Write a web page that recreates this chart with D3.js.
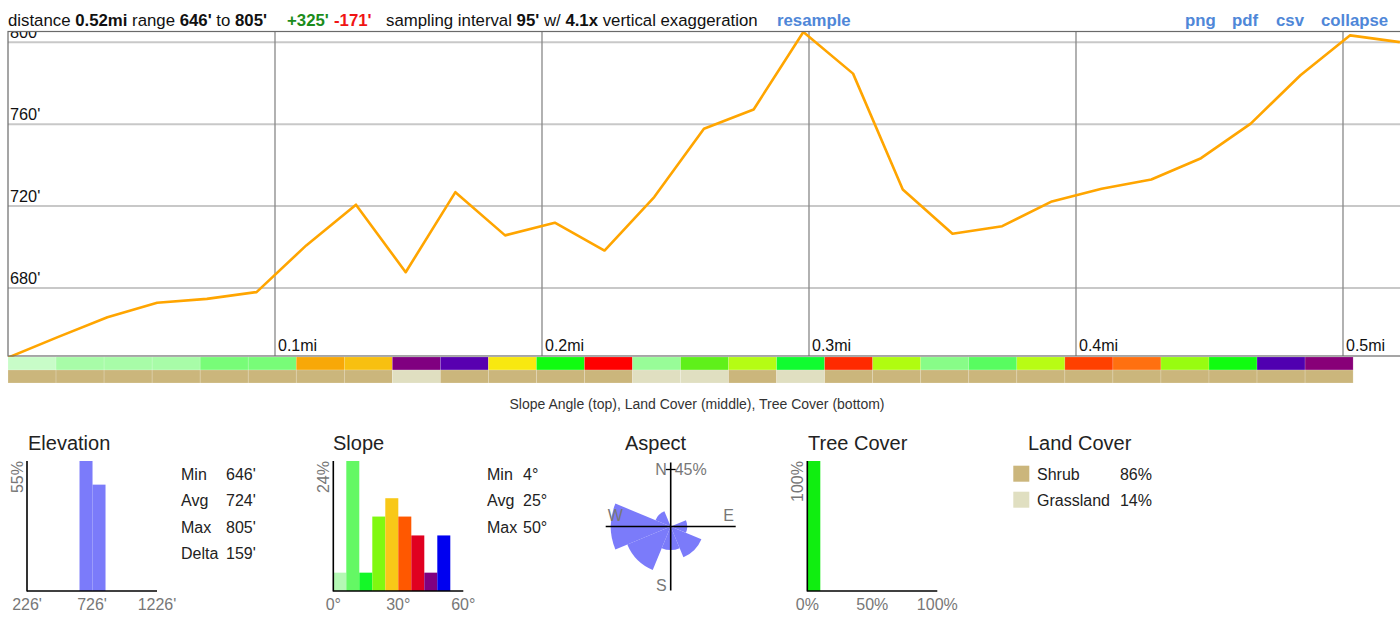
<!DOCTYPE html>
<html><head><meta charset="utf-8">
<script src="https://cdn.jsdelivr.net/npm/d3@7"></script>
<style>
html,body{margin:0;padding:0;background:#fff;}
svg{display:block;font-family:"Liberation Sans",Arial,Helvetica,sans-serif;}
</style></head><body>
<svg id="c" width="1400" height="620"></svg>
<script>
// ---------- data ----------
const totalMiles = 0.5213;
const elevations = [646,656,665.7,672.8,674.7,678,700.8,720.7,687.7,726.8,705.7,711.9,698.3,724.4,757.8,767.2,805,784.7,728.1,706.5,710.2,722.3,728.5,733,743.4,760.3,783.9,803.4,800.1];
const xTicks = [0.1,0.2,0.3,0.4,0.5];
const xTickLabels = ["0.1mi","0.2mi","0.3mi","0.4mi","0.5mi"];
const yTicks = [680,720,760,800];
const yTickLabels = ["680'","720'","760'","800'"];
const sampleFeet = 95;
const slopeColors = ["#c8fcc8","#a8fca8","#a8fca8","#a8fca8","#78fc78","#78fc78","#f8a808","#f8c010","#800080","#5800b0",
  "#f8e810","#10fc10","#ff0000","#98fc98","#5ff01a","#b5fc14","#10fc30","#ff2a00","#b0fc10","#88fc88",
  "#58fc60","#b8fc14","#ff4000","#ff7010","#98fc10","#10fc10","#5000b0","#880078"];
const landCover = ["Shrub","Shrub","Shrub","Shrub","Shrub","Shrub","Shrub","Shrub","Grassland","Shrub",
  "Shrub","Shrub","Shrub","Grassland","Grassland","Shrub","Grassland","Shrub","Shrub","Shrub",
  "Shrub","Shrub","Shrub","Shrub","Shrub","Shrub","Shrub","Shrub"];
const landNames = ["Shrub","Grassland"];
const landPct = [86,14];
const landColors = ["#cbb67c","#e0dfc1"];

const elevBinEdges = [630,730,830];
const elevPct = [55,45];
const elevAxisTicks = [226,726,1226];
const elevAxisLabels = ["226'","726'","1226'"];
const elevStatNames = ["Min","Avg","Max","Delta"];
const elevStatValues = ["646'","724'","805'","159'"];

const slopeBinStarts = [0,6,12,18,24,30,36,42,48];
const slopePct = [3.4,24.1,3.4,13.8,17.2,13.8,10.3,3.4,10.3];
const slopeBinColors = ["#b4f8b4","#64f864","#14f828","#80f810","#f8c818","#ff5800","#e00020","#800080","#0000f0"];
const slopeAxisTicks = [0,30,60];
const slopeAxisLabels = ["0°","30°","60°"];
const slopeStatNames = ["Min","Avg","Max"];
const slopeStatValues = ["4°","25°","50°"];

const aspectDirs = ["N","NE","E","SE","S","SW","W","NW"];
const aspectPct = [0,0,3.4,13.8,6.9,27.6,44.8,3.4];

const treeBinStarts = [0];
const treePct = [100];
const treeAxisTicks = [0,50,100];
const treeAxisLabels = ["0%","50%","100%"];

// ---------- drawing ----------
const svg = d3.select("#c");
const gray = "#777";

// header
const hdr = svg.append("g").attr("font-size",16.8);
function runs(x, parts){
  const t = hdr.append("text").attr("x",x).attr("y",26);
  parts.forEach(p=>t.append("tspan").text(p[0]).attr("font-weight",p[1]?"bold":null).attr("fill",p[2]||"#111"));
}
runs(8,[["distance ",0],["0.52mi",1],[" range ",0],["646'",1],[" to ",0],["805'",1]]);
runs(287,[["+325'",1,"#1b8c1b"]]);
runs(334,[["-171'",1,"#f01414"]]);
runs(386,[["sampling interval ",0],["95'",1],[" w/ ",0],["4.1x",1],[" vertical exaggeration",0]]);
const blue = "#4f87d8";
runs(777,[["resample",1,blue]]);
runs(1185,[["png",1,blue]]);
runs(1232,[["pdf",1,blue]]);
runs(1276,[["csv",1,blue]]);
runs(1321,[["collapse",1,blue]]);

// main chart
const x = d3.scaleLinear().domain([0,totalMiles]).range([8, 8+totalMiles*2670]);
const y = d3.scaleLinear().domain([680,800]).range([288,42.3]);
const plotTop = 31.5, plotBottom = 356, plotLeft = 8, plotRight = 1401;

svg.append("clipPath").attr("id","pc").append("rect")
  .attr("x",plotLeft).attr("y",plotTop).attr("width",plotRight-plotLeft).attr("height",plotBottom-plotTop+1);
const plot = svg.append("g").attr("clip-path","url(#pc)");

plot.selectAll("line.h").data(yTicks).join("line")
  .attr("x1",plotLeft).attr("x2",plotRight).attr("y1",d=>y(d)).attr("y2",d=>y(d))
  .attr("stroke","#c8c8c8").attr("stroke-width",2);
plot.selectAll("line.v").data(xTicks).join("line")
  .attr("x1",d=>x(d)).attr("x2",d=>x(d)).attr("y1",plotTop).attr("y2",plotBottom)
  .attr("stroke","#888").attr("stroke-width",1.3);
plot.selectAll("text.yl").data(yTicks).join("text")
  .attr("x",10).attr("y",d=>y(d)-4).attr("font-size",16.3).attr("fill","#111")
  .text((d,i)=>yTickLabels[i]);
plot.selectAll("text.xl").data(xTicks).join("text")
  .attr("x",d=>x(d)+3).attr("y",351).attr("font-size",16).attr("fill","#111")
  .text((d,i)=>xTickLabels[i]);

const step = totalMiles/(elevations.length-1);
const line = d3.line().x((d,i)=>x(i*step)).y(d=>y(d));
plot.append("path").datum(elevations).attr("d",line)
  .attr("fill","none").attr("stroke","#ffa500").attr("stroke-width",2.6).attr("stroke-linejoin","round");

svg.append("rect").attr("x",plotLeft).attr("y",plotTop).attr("width",plotRight-plotLeft).attr("height",plotBottom-plotTop)
  .attr("fill","none").attr("stroke","#6a6a6a").attr("stroke-width",1.2);

// strips
const segMi = sampleFeet/5280;
svg.selectAll("rect.slope").data(slopeColors).join("rect")
  .attr("x",(d,i)=>x(i*segMi)).attr("width",(d,i)=>x((i+1)*segMi)-x(i*segMi))
  .attr("y",357).attr("height",13).attr("fill",d=>d)
  .attr("stroke","rgba(255,255,255,0.25)").attr("stroke-width",0.6);
svg.selectAll("rect.land").data(landCover).join("rect")
  .attr("x",(d,i)=>x(i*segMi)).attr("width",(d,i)=>x((i+1)*segMi)-x(i*segMi))
  .attr("y",370).attr("height",13).attr("fill",d=>landColors[landNames.indexOf(d)])
  .attr("stroke","rgba(255,255,255,0.3)").attr("stroke-width",0.6);

svg.append("text").attr("x",697).attr("y",409).attr("text-anchor","middle").attr("font-size",14).attr("fill","#333")
  .text("Slope Angle (top), Land Cover (middle), Tree Cover (bottom)");

// panels
function title(tx, txt){
  svg.append("text").attr("x",tx).attr("y",450).attr("font-size",20).attr("fill","#222").text(txt);
}
function histPanel(opts){
  const g = svg.append("g");
  const xs = d3.scaleLinear().domain(opts.xDomain).range([opts.x0, opts.x0+130]);
  const ys = d3.scaleLinear().domain([0,opts.yMax]).range([591,461]);
  g.selectAll("rect").data(opts.pct).join("rect")
    .attr("x",(d,i)=>xs(opts.starts[i])).attr("width",(d,i)=>xs(opts.starts[i]+opts.binW)-xs(opts.starts[i]))
    .attr("y",d=>ys(d)).attr("height",d=>591-ys(d))
    .attr("fill",(d,i)=>opts.colors[i]);
  g.append("line").attr("x1",opts.x0).attr("x2",opts.x0).attr("y1",461).attr("y2",591.5).attr("stroke","#000").attr("stroke-width",1.6);
  g.append("line").attr("x1",opts.x0).attr("x2",opts.x0+130).attr("y1",591).attr("y2",591).attr("stroke","#000").attr("stroke-width",1.6);
  g.selectAll("text.t").data(opts.ticks).join("text")
    .attr("x",d=>xs(d)).attr("y",610).attr("text-anchor","middle").attr("font-size",16).attr("fill",gray)
    .text((d,i)=>opts.tickLabels[i]);
  g.append("text").attr("transform",`translate(${opts.x0-4.5},461) rotate(-90)`)
    .attr("text-anchor","end").attr("font-size",16).attr("fill",gray).text(opts.yLabel);
}
function stats(sx, vx, names, vals){
  names.forEach((n,i)=>{
    svg.append("text").attr("x",sx).attr("y",480+i*26.4).attr("font-size",16).attr("fill","#222").text(n);
    svg.append("text").attr("x",vx).attr("y",480+i*26.4).attr("font-size",16).attr("fill","#222").text(vals[i]);
  });
}

title(28,"Elevation");
histPanel({x0:27, xDomain:[226,1226], yMax:55, starts:elevBinEdges.slice(0,-1), binW:100, pct:elevPct,
  colors:elevPct.map(()=>"#7b7bfa"), ticks:elevAxisTicks, tickLabels:elevAxisLabels, yLabel:"55%"});
stats(181,226,elevStatNames,elevStatValues);

title(333,"Slope");
histPanel({x0:333.3, xDomain:[0,60], yMax:24.1, starts:slopeBinStarts, binW:6, pct:slopePct,
  colors:slopeBinColors, ticks:slopeAxisTicks, tickLabels:slopeAxisLabels, yLabel:"24%"});
stats(487,523,slopeStatNames,slopeStatValues);

title(625,"Aspect");
{
  const cx = 670.7, cy = 526.5;
  const r = d3.scaleSqrt().domain([0,45]).range([0,60]);
  const arc = d3.arc().innerRadius(0);
  const g = svg.append("g").attr("transform",`translate(${cx},${cy})`);
  g.selectAll("path").data(aspectPct).join("path")
    .attr("d",(d,i)=>arc({outerRadius:r(d), startAngle:(i*45-22.5)*Math.PI/180, endAngle:(i*45+22.5)*Math.PI/180}))
    .attr("fill","#7b7bfa");
  g.append("line").attr("x1",0).attr("x2",0).attr("y1",-64).attr("y2",64).attr("stroke","#000").attr("stroke-width",1.6);
  g.append("line").attr("x1",-65).attr("x2",65).attr("y1",0).attr("y2",0).attr("stroke","#000").attr("stroke-width",1.6);
  g.append("line").attr("x1",-5).attr("x2",5).attr("y1",-r(45)+3).attr("y2",-r(45)+3).attr("stroke","#000").attr("stroke-width",1.3);
  const lab = (tx,ty,anchor,t)=>g.append("text").attr("x",tx).attr("y",ty).attr("text-anchor",anchor)
    .attr("font-size",16).attr("fill",gray).text(t);
  lab(-4,-52,"end","N");
  lab(4,-52,"start","45%");
  lab(-63,-5.5,"start","W");
  lab(52.5,-5.5,"start","E");
  lab(-4,64.5,"end","S");
}

title(808,"Tree Cover");
histPanel({x0:807.3, xDomain:[0,100], yMax:100, starts:treeBinStarts, binW:10, pct:treePct,
  colors:["#10ee10"], ticks:treeAxisTicks, tickLabels:treeAxisLabels, yLabel:"100%"});

title(1028,"Land Cover");
landNames.forEach((n,i)=>{
  svg.append("rect").attr("x",1013.3).attr("y",465.7+i*26).attr("width",16).attr("height",16).attr("fill",landColors[i]);
  svg.append("text").attr("x",1037).attr("y",480+i*26).attr("font-size",16).attr("fill","#222").text(n);
  svg.append("text").attr("x",1152).attr("y",480+i*26).attr("text-anchor","end").attr("font-size",16).attr("fill","#222").text(landPct[i]+"%");
});
</script>
</body></html>
